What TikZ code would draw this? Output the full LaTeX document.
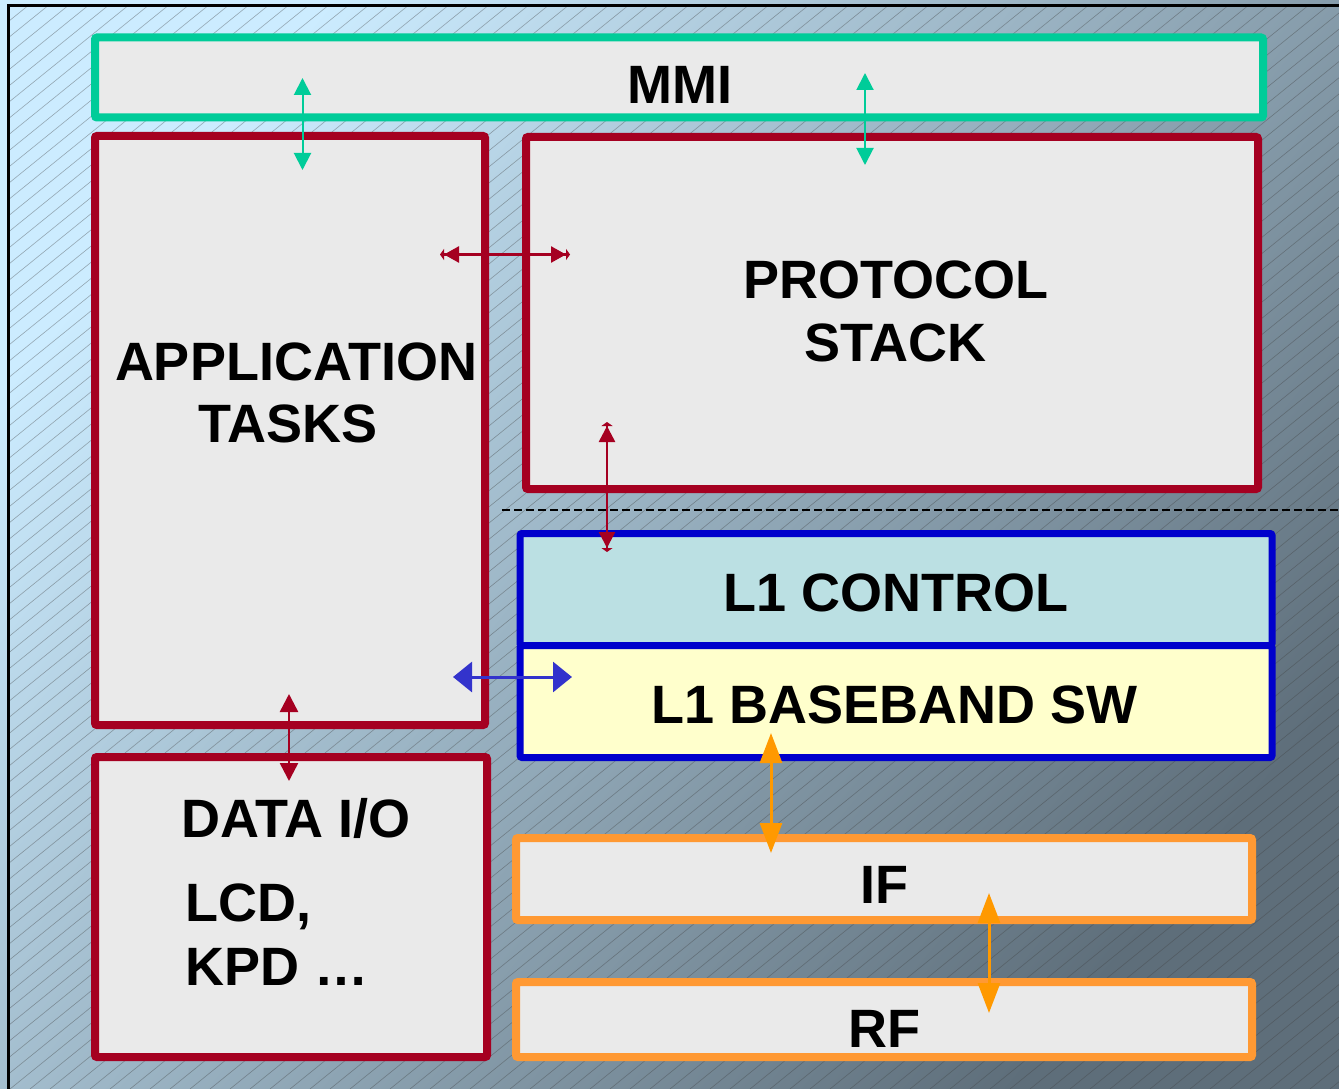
\documentclass[tikz,border=0pt]{standalone}
\usepackage{fontspec}
\setmainfont{Liberation Sans}
\usetikzlibrary{arrows.meta}

\definecolor{mmigreen}{HTML}{00CC99}
\definecolor{swred}{HTML}{A50021}
\definecolor{l1blue}{HTML}{0000CC}
\definecolor{rforange}{HTML}{FF9933}
\definecolor{rfarrow}{HTML}{FF9900}
\definecolor{arrblue}{HTML}{3333CC}
\definecolor{boxgray}{HTML}{EAEAEA}
\definecolor{ctrlfill}{HTML}{BBE0E3}
\definecolor{bbfill}{HTML}{FFFFCC}
\definecolor{bgtop}{HTML}{CCECFF}
\definecolor{bgmid}{HTML}{A2B8C6}
\definecolor{bgbot}{HTML}{5E6E7A}

\tikzset{
  layer/.style={draw, line width=8pt, rounded corners=2pt, fill=boxgray,
    inner sep=0pt, outer sep=0pt, anchor=north west},
  lbl/.style={font=\fontsize{54}{60}\selectfont\bfseries, inner sep=0pt, anchor=base},
  lbll/.style={lbl, anchor=base west},
}

\begin{document}
\begin{tikzpicture}[x=1pt, y=-1pt]
\useasboundingbox (0,0) rectangle (1339,1089);

% backdrop: diagonal gradient with fine hatching inside the frame
\shade[top color=bgtop, middle color=bgmid, bottom color=bgbot, shading angle=50]
  (0,0) rectangle (1339,1089);
\begin{scope}
  \clip (8,6) rectangle (1339,1089);
  \foreach \i in {-1350,-1330,...,1345}
    \draw[black!75, opacity=0.4, line width=0.6pt] (\i,1089) -- ({\i+1345},0);
\end{scope}
\draw[line width=3pt] (8,1089) -- (8,6) -- (1339,6);

% software layers
\node[layer, draw=mmigreen, minimum width=1168pt, minimum height=80pt] (mmi) at (95,37.5) {};
\node[layer, draw=swred, minimum width=390pt, minimum height=589pt] (app) at (95,136) {};
\node[layer, draw=swred, minimum width=732pt, minimum height=352pt] (ps) at (526,137) {};
\node[layer, draw=swred, minimum width=392pt, minimum height=300pt] (dio) at (95,757) {};
\node[layer, draw=l1blue, line width=7pt, fill=ctrlfill, minimum width=752pt, minimum height=112pt] (l1c) at (520,533.5) {};
\node[layer, draw=l1blue, line width=7pt, fill=bbfill, minimum width=752pt, minimum height=112pt] (l1b) at (520,645.5) {};
\node[layer, draw=rforange, minimum width=736pt, minimum height=82pt] (if) at (516,838) {};
\node[layer, draw=rforange, minimum width=736pt, minimum height=75pt] (rf) at (516,982) {};

% boundary between protocol stack and layer 1
\coordinate (dashL) at (502,510);
\coordinate (dashR) at (1339,510);
\draw[line width=1.5pt, dash pattern=on 8pt off 4pt] (dashL) -- (dashR);

% labels
\node[lbl] (tmmi) at (680,104) {MMI};
\node[lbl] (tps1) at (896,298) {PROTOCOL};
\node[lbl] (tps2) at (895,361) {STACK};
\node[lbl] (tapp1) at (296,380) {APPLICATION};
\node[lbl] (tapp2) at (288,442) {TASKS};
\node[lbl] (tl1c) at (896,611) {L1 CONTROL};
\node[lbl] (tl1b) at (895,723) {L1 BASEBAND SW};
\node[lbl] (tdio) at (296,837) {DATA I/O};
\node[lbll] (tlcd) at (185,921) {LCD,};
\node[lbll] (tkpd) at (185,985) {KPD …};
\node[lbl] (tif) at (884,903) {IF};
\node[lbl] (trf) at (884,1047) {RF};

% interfaces between layers
\coordinate (g1a) at (302.5,78);  \coordinate (g1b) at (302.5,170);
\coordinate (g2a) at (865,73);    \coordinate (g2b) at (865,165);
\draw[mmigreen, line width=2pt, {Triangle[length=17pt,width=17pt]}-{Triangle[length=17pt,width=17pt]}] (g1a) -- (g1b);
\draw[mmigreen, line width=2pt, {Triangle[length=17pt,width=17pt]}-{Triangle[length=17pt,width=17pt]}] (g2a) -- (g2b);

\coordinate (r1a) at (440,254.5); \coordinate (r1b) at (570,254.5);
\draw[swred, line width=2.5pt,
  {Triangle[length=4pt,width=11pt] Triangle[length=15pt,width=16pt]}-{Triangle[length=15pt,width=16pt] Triangle[length=4pt,width=11pt]}]
  (r1a) -- (r1b);
\coordinate (r2a) at (607,422); \coordinate (r2b) at (607,552);
\draw[swred, line width=2.5pt,
  {Triangle[length=4pt,width=11pt] Triangle[length=16pt,width=16pt]}-{Triangle[length=16pt,width=16pt] Triangle[length=4pt,width=11pt]}]
  (r2a) -- (r2b);
\coordinate (r3a) at (289,694); \coordinate (r3b) at (289,781);
\draw[swred, line width=2.5pt, {Triangle[length=18pt,width=18pt]}-{Triangle[length=18pt,width=18pt]}] (r3a) -- (r3b);

\coordinate (b1a) at (453,677); \coordinate (b1b) at (572,677);
\draw[arrblue, line width=3pt, {Triangle[length=19pt,width=30pt]}-{Triangle[length=19pt,width=30pt]}] (b1a) -- (b1b);

\coordinate (o1a) at (771,733); \coordinate (o1b) at (771,853);
\coordinate (o2a) at (989,893); \coordinate (o2b) at (989,1013);
\draw[rfarrow, line width=3pt, {Triangle[length=30pt,width=22pt]}-{Triangle[length=30pt,width=22pt]}] (o1a) -- (o1b);
\draw[rfarrow, line width=3pt, {Triangle[length=30pt,width=22pt]}-{Triangle[length=30pt,width=22pt]}] (o2a) -- (o2b);
\end{tikzpicture}
\end{document}
